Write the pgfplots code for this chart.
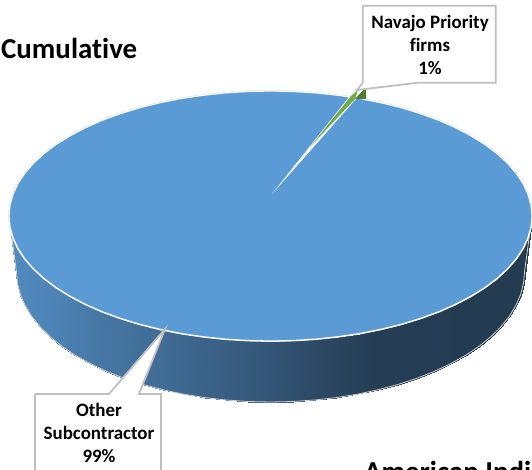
\documentclass[border=0pt]{standalone}
\usepackage{pgfplots}
\pgfplotsset{compat=1.18}
\usepackage{pgfplotstable}
\usepackage{fontspec}
\setmainfont[Ligatures=NoCommon]{Carlito}
\definecolor{pieblue}{HTML}{5B9BD5}
\definecolor{piegreen}{HTML}{70AD47}
\definecolor{piegreendark}{HTML}{4E7D30}
\definecolor{boxline}{HTML}{BFBFBF}

% top face of the pie, in picture pixels
\pgfplotstableread{
x y
532 216
531 226.9
528 237.7
523.1 248.4
516.2 258.8
507.5 268.8
497 278.5
484.7 287.7
470.8 296.3
455.4 304.4
438.6 311.8
420.5 318.4
401.3 324.3
381 329.3
359.9 333.5
338.2 336.7
315.9 339.1
293.3 340.5
270.5 341
247.7 340.5
225.1 339.1
202.8 336.7
181.1 333.5
160 329.3
139.7 324.3
120.5 318.4
102.4 311.8
85.6 304.4
70.2 296.3
56.3 287.7
44 278.5
33.5 268.8
24.8 258.8
17.9 248.4
13 237.7
10 226.9
9 216
10 205.1
13 194.3
17.9 183.6
24.8 173.2
33.5 163.2
44 153.5
56.3 144.3
70.2 135.7
85.6 127.6
102.4 120.2
120.5 113.6
139.7 107.7
160 102.7
181.1 98.5
202.8 95.3
225.1 92.9
247.7 91.5
270.5 91
293.3 91.5
315.9 92.9
338.2 95.3
359.9 98.5
381 102.7
401.3 107.7
420.5 113.6
438.6 120.2
455.4 127.6
470.8 135.7
484.7 144.3
497 153.5
507.5 163.2
516.2 173.2
523.1 183.6
528 194.3
531 205.1
532 216
}\topface

% side wall: upper edge then lower edge, left to right
\pgfplotstableread{
x y
9 216
10 226.9
13 237.7
17.9 248.4
24.8 258.8
33.5 268.8
44 278.5
56.3 287.7
70.2 296.3
85.6 304.4
102.4 311.8
120.5 318.4
139.7 324.3
160 329.3
181.1 333.5
202.8 336.7
225.1 339.1
247.7 340.5
270.5 341
293.3 340.5
315.9 339.1
338.2 336.7
359.9 333.5
381 329.3
401.3 324.3
420.5 318.4
438.6 311.8
455.4 304.4
470.8 296.3
484.7 287.7
497 278.5
507.5 268.8
516.2 258.8
523.1 248.4
528 237.7
531 226.9
532 216
16.5 272
17.5 283.3
20.4 294.6
25.2 305.6
31.8 316.5
40.3 326.9
50.5 337
62.4 346.6
75.9 355.6
90.9 363.9
107.2 371.6
124.8 378.5
143.5 384.6
163.2 389.8
183.6 394.2
204.8 397.6
226.4 400
248.4 401.5
270.5 402
292.6 401.5
314.6 400
336.2 397.6
357.4 394.2
377.8 389.8
397.5 384.6
416.2 378.5
433.8 371.6
450.1 363.9
465.1 355.6
478.6 346.6
490.5 337
500.7 326.9
509.2 316.5
515.8 305.6
520.6 294.6
523.5 283.3
524.5 272
}\sidewall

\pgfplotstableread{
x y
9 216
16.5 272
17.5 283.3
20.4 294.6
25.2 305.6
31.8 316.5
40.3 326.9
50.5 337
62.4 346.6
75.9 355.6
90.9 363.9
107.2 371.6
124.8 378.5
143.5 384.6
163.2 389.8
183.6 394.2
204.8 397.6
226.4 400
248.4 401.5
270.5 402
292.6 401.5
314.6 400
336.2 397.6
357.4 394.2
377.8 389.8
397.5 384.6
416.2 378.5
433.8 371.6
450.1 363.9
465.1 355.6
478.6 346.6
490.5 337
500.7 326.9
509.2 316.5
515.8 305.6
520.6 294.6
523.5 283.3
524.5 272
532 216
}\lowerrim

\begin{document}
\begin{tikzpicture}
\clip[use as bounding box] (0,0) rectangle (532bp,470bp);
\begin{axis}[
	at={(0,0)},
	anchor=south west,
	scale only axis,
	width=532bp,
	height=470bp,
	xmin=0, xmax=532,
	ymin=0, ymax=470,
	y dir=reverse,
	hide axis,
	clip=false,
	point meta min=0,
	point meta max=532,
	colormap={sidewall}{
		rgb255=(84,140,193) rgb255=(77,131,182) rgb255=(69,118,163)
		rgb255=(64,108,150) rgb255=(58,97,134) rgb255=(52,86,120)
		rgb255=(44,72,100) rgb255=(37,62,85) rgb255=(36,61,84)
		rgb255=(35,60,82) rgb255=(35,60,82)
	},
]
% side wall
\addplot[surf, shader=interp, mesh/rows=2, point meta=x] table {\sidewall};
\addplot[draw=black!18, line width=0.8pt] table {\lowerrim};

% top face and the 1% slice
\addplot[draw=black!16, line width=1.9pt] table {\topface};
\addplot[fill=pieblue, draw=white, line width=1.2pt] table {\topface};
\addplot[fill=piegreendark, draw=none] coordinates {(355,99) (366,99) (366,87)};
\addplot[fill=white, draw=none] coordinates {(272,194) (349,97) (356,99)};
\addplot[fill=piegreen, draw=none] coordinates {(310,147) (351,96) (358,90) (355,99)};

% callout boxes
\addplot[fill=white, draw=boxline, line width=1.8pt] coordinates {
	(362.7,5.7) (495.7,5.7) (495.7,82.7) (418,82.7) (357,90) (362.7,82.7) (362.7,5.7)};
\addplot[fill=white, draw=boxline, line width=1.8pt] coordinates {
	(35,394) (109,394) (165,329) (139,394) (161,394) (161,476) (35,476) (35,394)};

\node[align=center, font=\bfseries\fontsize{19}{23}\selectfont, inner sep=0pt]
	at (axis cs:430,45) {Navajo Priority\\firms\\1\%};
\node[align=center, font=\bfseries\fontsize{19}{23}\selectfont, inner sep=0pt]
	at (axis cs:99,433) {Other\\Subcontractor\\99\%};
\node[anchor=base west, font=\bfseries\fontsize{29}{34}\selectfont, inner sep=0pt]
	at (axis cs:1,58) {Cumulative};
\node[anchor=base west, font=\bfseries\fontsize{29}{34}\selectfont, inner sep=0pt]
	at (axis cs:364,481) {American Indian};
\end{axis}
\end{tikzpicture}
\end{document}
